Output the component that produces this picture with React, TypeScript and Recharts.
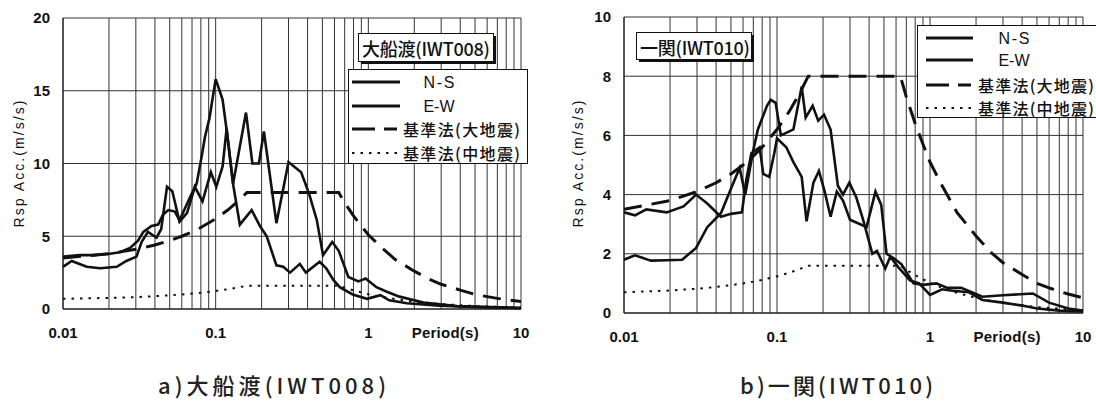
import React from "react";
import { LineChart, Line, XAxis, YAxis, CartesianGrid } from "recharts";

// log-axis grid ticks (every minor step 1..9 per decade)
const periodTicks = [
  0.01, 0.02, 0.03, 0.04, 0.05, 0.06, 0.07, 0.08, 0.09,
  0.1, 0.2, 0.3, 0.4, 0.5, 0.6, 0.7, 0.8, 0.9,
  1, 2, 3, 4, 5, 6, 7, 8, 9, 10,
];
const xTickLabels: Record<string, string> = {
  "0.01": "0.01",
  "0.1": "0.1",
  "1": "1",
  "3": "Period(s)",
  "10": "10",
};
const yTicksA = [0, 5, 10, 15, 20];
const yTicksB = [0, 2, 4, 6, 8, 10];

// 基準法 spectra (same in both panels)
const codePeriods = [
  0.01, 0.02, 0.03, 0.04, 0.05, 0.06, 0.07, 0.08, 0.1, 0.12, 0.14, 0.16,
  0.3, 0.64, 0.7, 0.8, 0.9, 1, 1.2, 1.5, 2, 2.5, 3, 4, 5, 6, 7, 8, 10,
];
const codeLarge = [
  3.5, 3.8, 4.1, 4.4, 4.7, 5.0, 5.3, 5.6, 6.2, 6.8, 7.4, 8.0,
  8.0, 8.0, 7.3, 6.4, 5.7, 5.1, 4.3, 3.4, 2.6, 2.05, 1.7, 1.3, 1.0, 0.85, 0.73, 0.64, 0.51,
];
const codeMid = [
  0.7, 0.76, 0.82, 0.88, 0.94, 1.0, 1.06, 1.12, 1.24, 1.36, 1.48, 1.6,
  1.6, 1.6, 1.46, 1.28, 1.14, 1.02, 0.85, 0.68, 0.51, 0.41, 0.34, 0.26, 0.2, 0.17, 0.15, 0.13, 0.1,
];

// a) 大船渡(IWT008)
const ofuNsPeriods = [
  0.01, 0.0129, 0.0158, 0.0203, 0.0236, 0.0275, 0.031, 0.0336, 0.038, 0.042,
  0.0453, 0.049, 0.054, 0.058, 0.068, 0.075, 0.081, 0.085, 0.091, 0.1,
  0.111, 0.118, 0.13, 0.144, 0.172, 0.195, 0.216, 0.25, 0.277, 0.307,
  0.356, 0.39, 0.48, 0.53, 0.59, 0.65, 0.79, 0.98, 1.2, 1.37,
  1.79, 2.93, 4.9, 10,
];
const ofuNs = [
  3.6, 3.7, 3.7, 3.8, 3.9, 4.2, 4.7, 5.3, 5.7, 5.8,
  6.5, 6.8, 6.7, 6.1, 7.7, 8.6, 10.5, 11.8, 13.1, 15.8,
  14.4, 12.3, 8.6, 5.8, 6.8, 5.7, 5.0, 3.0, 2.9, 2.5,
  3.1, 2.5, 3.25, 2.8, 2.0, 1.5, 1.0, 0.7, 0.95, 0.6,
  0.4, 0.23, 0.14, 0.06,
];
const ofuEwPeriods = [
  0.01, 0.0114, 0.0143, 0.0175, 0.0225, 0.026, 0.0303, 0.0327, 0.036, 0.041,
  0.044, 0.048, 0.052, 0.058, 0.065, 0.073, 0.082, 0.093, 0.101, 0.111,
  0.118, 0.13, 0.158, 0.174, 0.192, 0.207, 0.25, 0.3, 0.363, 0.41,
  0.46, 0.505, 0.58, 0.64, 0.74, 0.86, 0.96, 1.13, 1.31, 1.6,
  2.3, 3.8, 10,
];
const ofuEw = [
  2.9, 3.3, 2.9, 2.8, 2.9, 3.3, 3.6, 4.6, 5.3, 4.9,
  5.5, 8.4, 8.1, 6.0, 6.6, 8.4, 7.4, 9.4, 8.4, 9.8,
  12.4, 8.6, 13.5, 10.0, 10.0, 12.2, 5.9, 10.1, 9.4, 7.9,
  6.1, 3.7, 4.6, 4.0, 2.2, 1.9, 2.1, 1.5, 1.2, 0.85,
  0.45, 0.2, 0.07,
];

// b) 一関(IWT010)
const ichNsPeriods = [
  0.01, 0.0118, 0.014, 0.019, 0.0245, 0.0296, 0.035, 0.043, 0.05, 0.059,
  0.063, 0.068, 0.077, 0.0813, 0.089, 0.096, 0.1, 0.115, 0.128, 0.145,
  0.156, 0.173, 0.188, 0.205, 0.224, 0.246, 0.27, 0.3, 0.35, 0.385,
  0.44, 0.48, 0.52, 0.58, 0.65, 0.78, 0.9, 1.1, 1.3, 1.6,
  2.2, 3.0, 4.7, 6, 8, 10,
];
const ichNs = [
  3.4, 3.3, 3.5, 3.4, 3.6, 4.0, 3.7, 3.25, 3.35, 3.4,
  4.5, 5.4, 5.6, 4.7, 4.6, 5.4, 5.9, 5.6, 5.1, 4.6,
  3.1, 4.4, 4.8, 4.1, 3.25, 4.1, 3.8, 3.15, 3.0, 2.9,
  4.1, 3.65, 2.0, 1.85, 1.65, 1.0, 0.95, 1.0, 0.85, 0.85,
  0.55, 0.6, 0.66, 0.35, 0.15, 0.08,
];
const ichEwPeriods = [
  0.01, 0.0118, 0.015, 0.019, 0.024, 0.0296, 0.035, 0.043, 0.05, 0.057,
  0.062, 0.07, 0.075, 0.086, 0.091, 0.098, 0.106, 0.128, 0.145, 0.154,
  0.171, 0.186, 0.203, 0.224, 0.25, 0.27, 0.297, 0.33, 0.366, 0.42,
  0.45, 0.51, 0.55, 0.62, 0.74, 0.85, 1.0, 1.2, 1.4, 1.8,
  2.2, 3, 4, 5, 7, 10,
];
const ichEw = [
  1.8, 1.95, 1.77, 1.78, 1.8, 2.2, 2.9, 3.37, 4.2, 4.9,
  4.0, 5.5, 6.2, 7.0, 7.2, 7.1, 6.0, 6.2, 7.65, 6.6,
  7.0, 6.5, 6.7, 6.2, 4.3, 4.0, 4.4, 3.9, 3.14, 2.0,
  2.1, 1.5, 1.9, 1.55, 1.1, 1.0, 0.61, 0.8, 0.75, 0.7,
  0.44, 0.35, 0.25, 0.15, 0.08, 0.05,
];

const INK = "#111";
const LATIN = "'Liberation Sans', Arial, sans-serif";
const CJK = "'Noto Sans CJK JP', 'Liberation Sans', sans-serif";

function buildRows(series: Record<string, [number[], number[]]>) {
  const map = new Map<number, any>();
  Object.keys(series).forEach((key) => {
    const [ps, vs] = series[key];
    ps.forEach((p, i) => {
      const row = map.get(p) ?? { p };
      row[key] = vs[i];
      map.set(p, row);
    });
  });
  return Array.from(map.values()).sort((a, b) => a.p - b.p);
}

const rowsA = buildRows({
  ns: [ofuNsPeriods, ofuNs],
  ew: [ofuEwPeriods, ofuEw],
  large: [codePeriods, codeLarge],
  mid: [codePeriods, codeMid],
});
const rowsB = buildRows({
  ns: [ichNsPeriods, ichNs],
  ew: [ichEwPeriods, ichEw],
  large: [codePeriods, codeLarge],
  mid: [codePeriods, codeMid],
});

function XTick(props: any) {
  const { x, y, payload } = props;
  const label = xTickLabels[String(payload.value)];
  if (!label) return <g />;
  const isName = payload.value === 3;
  return (
    <text
      x={x + (isName ? 4 : 0)}
      y={y}
      dy="0.71em"
      textAnchor="middle"
      fontSize={15}
      fontWeight={700}
      fontFamily={LATIN}
      fill={INK}
      textLength={isName ? 67 : undefined}
    >
      {label}
    </text>
  );
}

function Panel({
  left,
  rows,
  yMax,
  yTicks,
  margin,
}: {
  left: number;
  rows: any[];
  yMax: number;
  yTicks: number[];
  margin: { top: number; right: number; bottom: number; left: number };
}) {
  return (
    <div style={{ position: "absolute", left, top: 0 }}>
      <LineChart width={540} height={350} data={rows} margin={margin}>
        <CartesianGrid stroke="#333" strokeWidth={1} />
        <XAxis
          dataKey="p"
          type="number"
          scale="log"
          domain={[0.01, 10]}
          allowDataOverflow
          ticks={periodTicks}
          interval={0}
          height={30}
          tickSize={0}
          tickMargin={18}
          tickLine={false}
          axisLine={{ stroke: INK }}
          tick={XTick}
        />
        <YAxis
          type="number"
          domain={[0, yMax]}
          ticks={yTicks}
          interval={0}
          width={50}
          tickSize={0}
          tickMargin={13}
          tickLine={false}
          axisLine={{ stroke: INK }}
          tick={{ fontSize: 15, fontWeight: 700, fill: INK, fontFamily: LATIN }}
        />
        <Line dataKey="mid" stroke={INK} strokeWidth={2} strokeDasharray="2.5 6" dot={false} connectNulls isAnimationActive={false} />
        <Line dataKey="large" stroke={INK} strokeWidth={3} strokeDasharray="18 10" dot={false} connectNulls isAnimationActive={false} />
        <Line dataKey="ew" stroke={INK} strokeWidth={2.6} dot={false} connectNulls isAnimationActive={false} />
        <Line dataKey="ns" stroke={INK} strokeWidth={2.6} dot={false} connectNulls isAnimationActive={false} />
      </LineChart>
    </div>
  );
}

function LegendBox({
  x,
  y,
  w,
  h,
  rowY,
  sx1,
  sx2,
  nameX,
  cjkX,
  cjkLen,
}: {
  x: number;
  y: number;
  w: number;
  h: number;
  rowY: number[];
  sx1: number;
  sx2: number;
  nameX: number;
  cjkX: number;
  cjkLen: number;
}) {
  return (
    <g>
      <rect x={x + 0.5} y={y + 0.5} width={w} height={h} fill="#fff" stroke={INK} strokeWidth={1} />
      <line x1={sx1} x2={sx2} y1={rowY[0]} y2={rowY[0]} stroke={INK} strokeWidth={3} />
      <line x1={sx1} x2={sx2} y1={rowY[1]} y2={rowY[1]} stroke={INK} strokeWidth={3} />
      <line x1={sx1} x2={sx2} y1={rowY[2]} y2={rowY[2]} stroke={INK} strokeWidth={3} strokeDasharray="23 9 13 100" />
      <line x1={sx1} x2={sx2} y1={rowY[3]} y2={rowY[3]} stroke={INK} strokeWidth={2} strokeDasharray="2.5 6" />
      <text x={nameX} y={rowY[0]} textAnchor="middle" dominantBaseline="central" fontSize={16} fontWeight={500} fontFamily={LATIN} fill={INK} textLength={31}>N-S</text>
      <text x={nameX} y={rowY[1]} textAnchor="middle" dominantBaseline="central" fontSize={16} fontWeight={500} fontFamily={LATIN} fill={INK} textLength={31}>E-W</text>
      <text x={cjkX} y={rowY[2]} dominantBaseline="central" fontSize={16} fontWeight={500} fontFamily={CJK} fill={INK} textLength={cjkLen} lengthAdjust="spacing">基準法(大地震)</text>
      <text x={cjkX} y={rowY[3]} dominantBaseline="central" fontSize={16} fontWeight={500} fontFamily={CJK} fill={INK} textLength={cjkLen} lengthAdjust="spacing">基準法(中地震)</text>
    </g>
  );
}

function NameBox({ x, y, w, h, text, len }: { x: number; y: number; w: number; h: number; text: string; len: number }) {
  return (
    <g>
      <rect x={x + 3} y={y + 3} width={w} height={h} fill={INK} />
      <rect x={x + 0.5} y={y + 0.5} width={w} height={h} fill="#fff" stroke={INK} strokeWidth={1} />
      <text x={x + 4} y={y + h / 2 + 1} dominantBaseline="central" fontSize={18} fontWeight={500} fontFamily={CJK} fill={INK} textLength={len} lengthAdjust="spacing">
        {text}
      </text>
    </g>
  );
}

export default function App() {
  return (
    <div
      style={{
        position: "absolute",
        left: 0,
        top: 0,
        width: 1096,
        height: 403,
        overflow: "hidden",
        background: "#fff",
      }}
    >
      <Panel left={0} rows={rowsA} yMax={20} yTicks={yTicksA} margin={{ top: 18, right: 19, bottom: 11, left: 13 }} />
      <Panel left={560} rows={rowsB} yMax={10} yTicks={yTicksB} margin={{ top: 17, right: 17, bottom: 7, left: 14 }} />

      <svg width={1096} height={403} style={{ position: "absolute", left: 0, top: 0, pointerEvents: "none" }}>
        {/* axis titles */}
        <text transform="translate(19,164) rotate(-90)" textAnchor="middle" dominantBaseline="central" fontSize={14} fontFamily={LATIN} fill={INK} textLength={127} lengthAdjust="spacing">
          Rsp Acc.(m/s/s)
        </text>
        <text transform="translate(578,164) rotate(-90)" textAnchor="middle" dominantBaseline="central" fontSize={14} fontFamily={LATIN} fill={INK} textLength={127} lengthAdjust="spacing">
          Rsp Acc.(m/s/s)
        </text>

        {/* panel captions */}
        <text x={158} y={384} dominantBaseline="central" fontSize={22} fontWeight={500} fontFamily={CJK} fill="#222" textLength={228} lengthAdjust="spacing">
          a)大船渡(IWT008)
        </text>
        <text x={740} y={384} dominantBaseline="central" fontSize={22} fontWeight={500} fontFamily={CJK} fill="#222" textLength={193} lengthAdjust="spacing">
          b)一関(IWT010)
        </text>

        {/* left panel legend */}
        <NameBox x={358} y={33} w={135} h={28} text="大船渡(IWT008)" len={128} />
        <LegendBox x={348} y={69} w={179} h={94} rowY={[82, 106, 129, 153]} sx1={352} sx2={400} nameX={439} cjkX={403} cjkLen={117} />

        {/* right panel legend */}
        <NameBox x={636} y={32} w={115} h={27} text="一関(IWT010)" len={110} />
        <LegendBox x={917} y={25} w={190} h={92} rowY={[38, 60, 85, 108]} sx1={926} sx2={973} nameX={1014} cjkX={978} cjkLen={116} />
      </svg>
    </div>
  );
}
